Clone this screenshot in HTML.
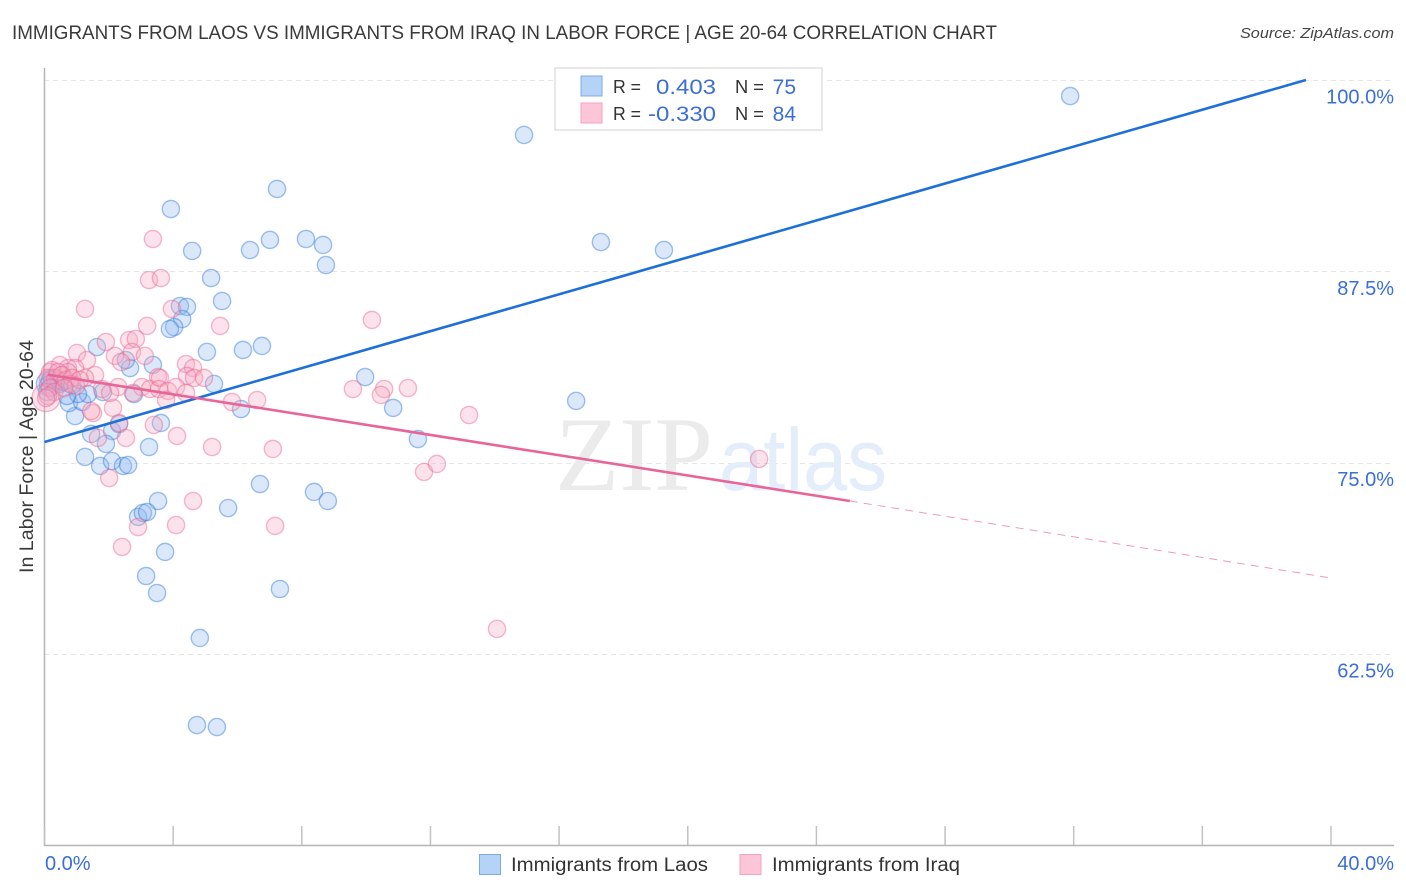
<!DOCTYPE html>
<html lang="en">
<head>
<meta charset="utf-8">
<title>Immigrants from Laos vs Immigrants from Iraq in Labor Force</title>
<style>
html,body{margin:0;padding:0;background:#fff;width:1406px;height:892px;overflow:hidden}
svg{display:block}
text{font-family:"Liberation Sans",sans-serif}
</style>
</head>
<body>
<svg id="chart" width="1406" height="892" viewBox="0 0 1406 892" xmlns="http://www.w3.org/2000/svg">
  <text x="12" y="39" font-size="19.5" fill="#3a3a3a" textLength="985" lengthAdjust="spacingAndGlyphs">IMMIGRANTS FROM LAOS VS IMMIGRANTS FROM IRAQ IN LABOR FORCE | AGE 20-64 CORRELATION CHART</text>
  <text x="1394" y="38" font-size="15" font-style="italic" fill="#444" text-anchor="end" textLength="154" lengthAdjust="spacingAndGlyphs">Source: ZipAtlas.com</text>

  <g id="grid"></g>

  <g>
    <text x="555" y="490" font-size="106" fill="#ebebeb" style="font-family:'Liberation Serif',serif" textLength="158" lengthAdjust="spacingAndGlyphs">ZIP</text>
    <text x="719" y="490" font-size="88" fill="#e4edfa" textLength="168" lengthAdjust="spacingAndGlyphs">atlas</text>
  </g>

  <g id="axes"></g>
  <g id="points-laos"></g>
  <g id="points-iraq"></g>
  <g id="trends"></g>
  <g id="labels"></g>

  <text transform="translate(33,573) rotate(-90)" font-size="19" fill="#3a3a3a" textLength="233" lengthAdjust="spacingAndGlyphs">In Labor Force | Age 20-64</text>

  <g>
    <rect x="555" y="68" width="267" height="62" fill="#fff" stroke="#e0e0e0" stroke-width="1.5"/>
    <rect x="581" y="76" width="21" height="20" fill="#b5d2f7" stroke="#7fa9e3" stroke-width="1"/>
    <text x="613" y="93" font-size="18.5" fill="#333" textLength="28" lengthAdjust="spacingAndGlyphs">R =</text>
    <text x="656" y="94" font-size="21" fill="#3b6fd4" textLength="60" lengthAdjust="spacingAndGlyphs">0.403</text>
    <text x="735" y="93" font-size="18.5" fill="#333" textLength="29" lengthAdjust="spacingAndGlyphs">N =</text>
    <text x="796" y="94" font-size="21" fill="#3b6fd4" text-anchor="end">75</text>
    <rect x="581" y="103" width="21" height="20" fill="#fcc6d8" stroke="#f4a3bd" stroke-width="1"/>
    <text x="613" y="120" font-size="18.5" fill="#333" textLength="28" lengthAdjust="spacingAndGlyphs">R =</text>
    <text x="648" y="121" font-size="21" fill="#3b6fd4" textLength="68" lengthAdjust="spacingAndGlyphs">-0.330</text>
    <text x="735" y="120" font-size="18.5" fill="#333" textLength="29" lengthAdjust="spacingAndGlyphs">N =</text>
    <text x="796" y="121" font-size="21" fill="#3b6fd4" text-anchor="end">84</text>
  </g>

  <g>
    <g>
      <rect x="479.5" y="854.5" width="21" height="20" fill="#b5d2f7" stroke="#7fa9e3" stroke-width="1"/>
      <text x="511" y="871" font-size="19" fill="#333" textLength="197" lengthAdjust="spacingAndGlyphs">Immigrants from Laos</text>
    </g>
    <g>
      <rect x="740" y="854.5" width="21" height="20" fill="#fcc6d8" stroke="#f4a3bd" stroke-width="1"/>
      <text x="772" y="871" font-size="19" fill="#333" textLength="188" lengthAdjust="spacingAndGlyphs">Immigrants from Iraq</text>
    </g>
  </g>
</svg>

<script>
const yTickValues = [100, 87.5, 75, 62.5];
const yTickLabels = ["100.0%", "87.5%", "75.0%", "62.5%"];
const xTickValues = [0, 4, 8, 12, 16, 20, 24, 28, 32, 36, 40];
const xEndLabels = ["0.0%", "40.0%"];

const laosX = [31.89,14.91,7.23,3.93,7.01,8.13,8.66,8.75,6.39,4.59,17.30,19.26,5.18,5.52,4.21,4.43,4.28,4.03,3.90,1.63,5.05,6.17,6.76,2.66,2.53,3.37,9.97,5.27,16.53,10.84,6.11,11.61,2.78,1.82,0.95,0.76,1.17,1.35,1.04,0.70,1.45,2.10,2.32,3.62,3.25,1.91,1.26,1.73,2.10,2.44,2.60,6.70,8.38,8.81,3.53,5.71,2.91,3.06,3.19,3.75,3.16,3.50,7.32,4.83,4.74,5.36,0.17,0.33,0.48,0.11,0.23,0.42,0.58,0.86,0.08];
const laosY = [98.95,96.41,92.88,91.57,89.55,89.61,89.22,87.91,88.89,88.83,89.41,88.89,87.06,85.56,85.23,85.17,84.38,83.86,83.73,82.55,82.23,82.36,82.62,81.18,81.70,81.38,80.59,80.14,79.03,78.57,78.50,76.54,79.48,79.61,78.04,78.89,78.96,79.48,79.48,79.35,76.87,77.06,77.52,77.59,76.02,76.22,75.37,74.78,75.10,74.78,74.84,73.60,73.08,72.49,72.49,72.03,71.45,71.71,71.77,69.16,67.59,66.48,66.74,63.54,57.85,57.72,80.40,80.27,80.14,80.07,80.53,80.40,80.27,80.07,79.61];

const iraqX = [3.37,3.25,3.62,3.96,3.19,5.46,2.63,2.84,1.91,1.26,10.18,1.01,1.32,2.19,2.72,3.12,2.38,1.57,4.40,4.62,4.43,4.65,4.96,3.53,0.48,0.73,0.95,0.73,1.26,1.79,2.29,3.03,3.28,3.59,3.56,3.84,4.09,4.40,3.78,2.75,5.83,6.61,2.13,1.51,1.45,2.32,3.40,4.12,5.21,2.53,1.66,2.01,4.62,4.09,2.91,2.41,7.10,7.17,9.59,10.56,11.30,10.46,13.20,11.80,12.20,14.07,22.22,0.17,0.23,0.33,0.11,0.42,0.54,0.67,0.17,0.30,0.11,0.05,0.79,0.86,1.10,0.98,0.61,2.04];
const iraqY = [89.61,86.93,87.06,85.04,83.93,83.93,83.01,83.08,82.88,85.04,84.32,82.16,81.70,81.97,82.23,81.97,81.57,80.72,81.44,81.18,80.66,80.53,80.53,80.59,81.38,81.18,81.18,80.92,80.53,79.81,79.94,79.94,79.81,80.53,79.81,79.68,79.94,79.55,79.09,79.55,78.96,79.09,78.57,78.24,78.37,77.59,77.46,76.74,76.02,76.61,76.61,73.99,72.49,70.92,70.79,69.49,75.89,70.86,79.81,79.81,79.87,79.42,78.11,74.39,74.91,64.13,75.24,80.92,81.05,80.53,80.53,80.92,80.72,80.40,79.87,79.61,79.35,79.22,80.14,80.53,80.40,80.01,79.87,79.55];

const laosLargeX = [0.12];
const laosLargeY = [80.15];
const iraqLargeX = [0.05];
const iraqLargeY = [79.25];

const laosTrendX = [0, 39.22];
const laosTrendY = [76.35, 100];
const iraqTrendX = [0.1, 25.04];
const iraqTrendY = [80.75, 72.49];
const iraqDashX = [25.04, 40];
const iraqDashY = [72.49, 67.46];

const NS = "http://www.w3.org/2000/svg";
function xScale(v){ return 44.5 + v * 32.1625; }
function yScale(v){ return 80 + (100 - v) * 15.304; }
function make(tag, attrs, parent){
  const el = document.createElementNS(NS, tag);
  for (const k in attrs) el.setAttribute(k, attrs[k]);
  parent.appendChild(el);
  return el;
}
const grid = document.getElementById("grid");
const axes = document.getElementById("axes");
const labels = document.getElementById("labels");
const trends = document.getElementById("trends");

yTickValues.forEach(function(v, i){
  const y = Math.round(yScale(v)) + 0.5;
  const line = make("line", {x1:44, x2:1394, y1:y, y2:y, stroke:"#e6e6e6", "stroke-width":1, "stroke-dasharray":"5 4"}, grid);
  
  
  const t = make("text", {x:1394, y:yScale(v) + 23.5, "font-size":20, fill:"#3b6fd4", "text-anchor":"end"}, labels);
  t.textContent = yTickLabels[i];
  
  
});

const yAxis = make("line", {x1:44.5, x2:44.5, y1:68, y2:846, stroke:"#b5b5b5", "stroke-width":1.5}, axes);


const xAxis = make("line", {x1:44, x2:1394, y1:845.5, y2:845.5, stroke:"#b5b5b5", "stroke-width":1.5}, axes);


xTickValues.forEach(function(v){
  const x = xScale(v);
  const tick = make("line", {x1:x, x2:x, y1:826, y2:845, stroke:"#c2c2c2", "stroke-width":1.5}, axes);
  
  
});
const xLabelStart = make("text", {x:45, y:870, "font-size":20, fill:"#3b6fd4"}, labels);
xLabelStart.textContent = xEndLabels[0];


const xLabelEnd = make("text", {x:1394, y:870, "font-size":20, fill:"#3b6fd4", "text-anchor":"end"}, labels);
xLabelEnd.textContent = xEndLabels[1];



function drawPoints(groupId, xs, ys, r, fill, stroke){
  const g = document.getElementById(groupId);
  xs.forEach(function(v, i){
    const c = make("circle", {cx:xScale(v), cy:yScale(ys[i]), r:r, fill:fill, "fill-opacity":0.32, stroke:stroke, "stroke-opacity":0.45, "stroke-width":1.4}, g);
    
    
  });
}
drawPoints("points-laos", laosLargeX, laosLargeY, 12, "#8fb8f0", "#2f78d8");
drawPoints("points-laos", laosX, laosY, 8.6, "#8fb8f0", "#2f78d8");
drawPoints("points-iraq", iraqLargeX, iraqLargeY, 14, "#f7a8c0", "#e8638f");
drawPoints("points-iraq", iraqX, iraqY, 8.6, "#f7a8c0", "#e8638f");

function drawTrend(xs, ys, color, width, dash, name){
  const attrs = {x1:xScale(xs[0]), y1:yScale(ys[0]), x2:xScale(xs[1]), y2:yScale(ys[1]), stroke:color, "stroke-width":width};
  if (dash) attrs["stroke-dasharray"] = dash;
  const l = make("line", attrs, trends);
  
  
}
drawTrend(laosTrendX, laosTrendY, "#1f6fd8", 2.6, null, "laos-trend-line");
drawTrend(iraqTrendX, iraqTrendY, "#e8659a", 2.6, null, "iraq-trend-line");
drawTrend(iraqDashX, iraqDashY, "#f09ab8", 1, "8 6", "iraq-trend-extension");
</script>
</body>
</html>
